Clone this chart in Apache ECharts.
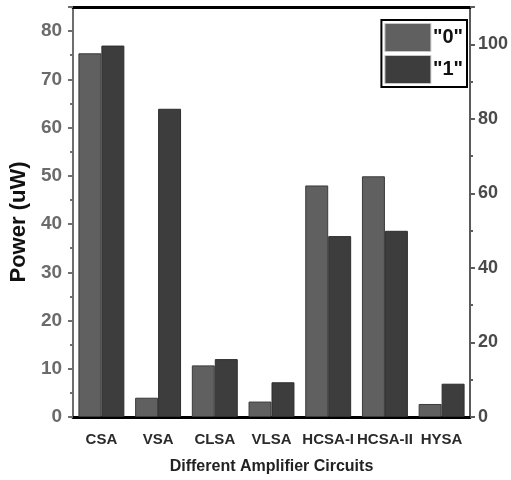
<!DOCTYPE html>
<html><head><meta charset="utf-8">
<script src="https://cdn.jsdelivr.net/npm/echarts@6/dist/echarts.min.js"></script>
<style>html,body{margin:0;padding:0;background:#fff}#c{width:511px;height:480px}</style>
</head><body><div id="c"></div>
<script>
const categories = ["CSA", "VSA", "CLSA", "VLSA", "HCSA-I", "HCSA-II", "HYSA"];
const values0 = [75.4, 4.0, 10.7, 3.2, 48.0, 49.9, 2.7];
const values1 = [77.0, 63.9, 12.0, 7.2, 37.5, 38.6, 6.9];
const seriesNames = ['"0"', '"1"'];
const leftTicks = [0, 10, 20, 30, 40, 50, 60, 70, 80];
const rightTicks = [0, 20, 40, 60, 80, 100];

const chart = echarts.init(document.getElementById('c'), null, {renderer: 'canvas'});
const sans = '"Liberation Sans", Arial, sans-serif';
const hidden = {show: false};
chart.setOption({
  animation: false,
  backgroundColor: '#fff',
  grid: {left: 68, right: 38, top: 7, bottom: 60, containLabel: false},
  legend: {
    right: 44, top: 20,
    orient: 'vertical',
    icon: 'rect',
    itemWidth: 46, itemHeight: 28, itemGap: 3,
    padding: [3, 4, 3, 3],
    borderColor: '#000', borderWidth: 2,
    itemStyle: {borderColor: '#c8c8c8', borderWidth: 1},
    textStyle: {fontFamily: sans, fontWeight: 'bold', fontSize: 20, color: '#111', padding: [0, 0, 0, -3]},
    data: seriesNames
  },
  xAxis: [
    {type: 'category', position: 'bottom', data: categories,
      axisLine: {lineStyle: {color: '#000', width: 3}},
      axisTick: {alignWithLabel: true, length: 6, lineStyle: {color: '#222', width: 2}},
      axisLabel: {margin: 15, fontFamily: sans, fontWeight: 'bold', fontSize: 15, color: '#2a2a2a', interval: 0},
      name: 'Different Amplifier Circuits', nameLocation: 'middle', nameGap: 42,
      nameTextStyle: {fontFamily: sans, fontWeight: 'bold', fontSize: 16, color: '#222'}
    },
    {type: 'category', position: 'bottom', data: categories,
      axisLine: hidden, axisLabel: hidden,
      axisTick: {length: 3, lineStyle: {color: '#222', width: 2}}
    },
    {type: 'category', position: 'top', data: categories,
      axisLine: {lineStyle: {color: '#000', width: 3}},
      axisTick: {alignWithLabel: true, inside: true, length: 7, lineStyle: {color: '#111', width: 2}},
      axisLabel: hidden
    },
    {type: 'category', position: 'top', data: categories,
      axisLine: hidden, axisLabel: hidden,
      axisTick: {inside: true, length: 4, lineStyle: {color: '#111', width: 2}}
    }
  ],
  yAxis: [
    {type: 'value', position: 'left', min: 0, max: 85, interval: 10,
      splitLine: hidden,
      axisLine: {show: true, lineStyle: {color: '#6e6e6e', width: 2}},
      axisTick: {show: true, length: 5, lineStyle: {color: '#6e6e6e', width: 2}},
      minorTick: {show: true, splitNumber: 2, length: 3, lineStyle: {color: '#6e6e6e', width: 2}},
      axisLabel: {margin: 11, fontFamily: sans, fontWeight: 'bold', fontSize: 19, color: '#6b6b6b',
        formatter: v => leftTicks.includes(v) ? String(v) : ''},
      name: 'Power (uW)', nameLocation: 'middle', nameGap: 40, nameRotate: 90,
      nameTextStyle: {fontFamily: sans, fontWeight: 'bold', fontSize: 22, color: '#111', padding: [0, 20, 0, 0]}
    },
    {type: 'value', position: 'right', min: 0, max: 110, interval: 20,
      splitLine: hidden,
      axisLine: {show: true, lineStyle: {color: '#5a5a5a', width: 2}},
      axisTick: {show: true, length: 5, lineStyle: {color: '#5a5a5a', width: 2}},
      minorTick: {show: true, splitNumber: 2, length: 3, lineStyle: {color: '#5a5a5a', width: 2}},
      axisLabel: {margin: 8, fontFamily: sans, fontWeight: 'bold', fontSize: 18, color: '#4a4a4a',
        formatter: v => rightTicks.includes(v) ? String(v) : ''}
    }
  ],
  series: [
    {name: seriesNames[0], type: 'bar', data: values0, xAxisIndex: 0, yAxisIndex: 0,
      barGap: '0%', barCategoryGap: '19%',
      itemStyle: {color: '#606060', borderColor: '#3a3a3a', borderWidth: 1}},
    {name: seriesNames[1], type: 'bar', data: values1, xAxisIndex: 0, yAxisIndex: 0,
      barGap: '0%', barCategoryGap: '19%',
      itemStyle: {color: '#3d3d3d', borderColor: '#2e2e2e', borderWidth: 1}}
  ]
});
</script></body></html>
